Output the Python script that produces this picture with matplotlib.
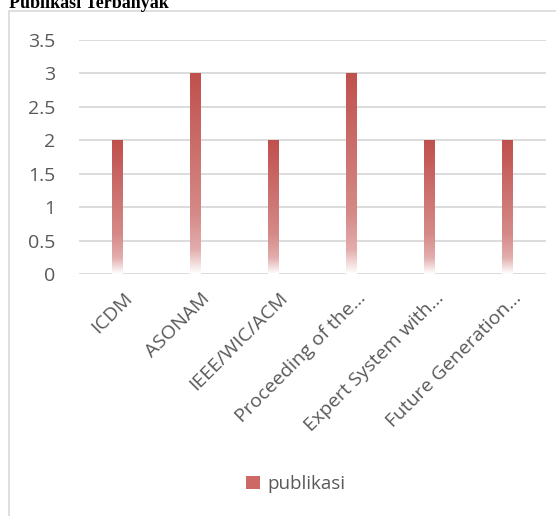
import matplotlib
matplotlib.use("Agg")
import matplotlib.pyplot as plt
import matplotlib.transforms as mtransforms
import numpy as np
from matplotlib.colors import LinearSegmentedColormap
from matplotlib.patches import Rectangle, Patch

categories = ["ICDM", "ASONAM", "IEEE/WIC/ACM", "Proceeding of the\u2026",
              "Expert System with\u2026", "Future Generation\u2026"]
values = [2, 3, 2, 3, 2, 2]
yticks = [0, 0.5, 1, 1.5, 2, 2.5, 3, 3.5]
ytick_labels = ["0", "0.5", "1", "1.5", "2", "2.5", "3", "3.5"]
title = "Publikasi Terbanyak"
series_name = "publikasi"

W, H = 556, 516
fig = plt.figure(figsize=(W / 100, H / 100), dpi=100)
fig.patch.set_facecolor("white")

# chart frame (gray border)
fig.patches.append(Rectangle((8.5 / W, -0.2), 2, 1.2 - 11 / H, transform=fig.transFigure,
                             fill=False, edgecolor="#D9D9D9", lw=1.2, zorder=0))

fig.text(9 / W, 1 - 8 / H, title, fontfamily="Liberation Serif", fontweight="bold",
         fontsize=13, ha="left", va="baseline", color="black")

ax = fig.add_axes([79 / W, 1 - 274 / H, (546 - 79) / W, (274 - 40) / H])
for s in ax.spines.values():
    s.set_visible(False)
ax.set_yticks(yticks)
ax.set_yticklabels(ytick_labels, fontfamily="Open Sans", fontsize=14, color="#595959")
ax.yaxis.grid(True, color="#D9D9D9", lw=1.3)
ax.set_axisbelow(True)
ax.tick_params(axis="both", length=0)
ax.tick_params(axis="y", pad=17)

cmap = LinearSegmentedColormap.from_list("grad", [
    (0.0, (1.0, 1.0, 1.0)),
    (0.12, (0.89, 0.68, 0.68)),
    (0.3, (0.835, 0.54, 0.53)),
    (1.0, (0.753, 0.314, 0.302)),
])
grad = np.linspace(0, 1, 256).reshape(-1, 1)
bw = 0.14
x = np.arange(len(categories)) + 0.5
for xi, v in zip(x, values):
    ax.imshow(grad, cmap=cmap, origin="lower", aspect="auto",
              extent=[xi - bw / 2, xi + bw / 2, 0, v], zorder=2, interpolation="bilinear")
ax.set_xlim(0, len(categories))
ax.set_ylim(0, 3.5)

ax.set_xticks(x)
ax.set_xticklabels(categories, rotation=45, ha="right", va="baseline", rotation_mode="anchor",
                   fontfamily="Open Sans", fontsize=14, color="#595959")
ax.tick_params(axis="x", pad=18)
offset = mtransforms.ScaledTranslation(15 / 100, 0, fig.dpi_scale_trans)
for lbl in ax.get_xticklabels():
    lbl.set_transform(lbl.get_transform() + offset)

leg = fig.legend(handles=[Patch(facecolor="#CC6966", edgecolor="none", label=series_name)],
                 loc="center", bbox_to_anchor=(296 / W, 1 - 484 / H), frameon=False,
                 prop={"family": "Open Sans", "size": 13.5}, handlelength=0.75, handleheight=0.75,
                 handletextpad=0.4)
for t in leg.get_texts():
    t.set_color("#595959")

fig.savefig("out.png", dpi=100)
